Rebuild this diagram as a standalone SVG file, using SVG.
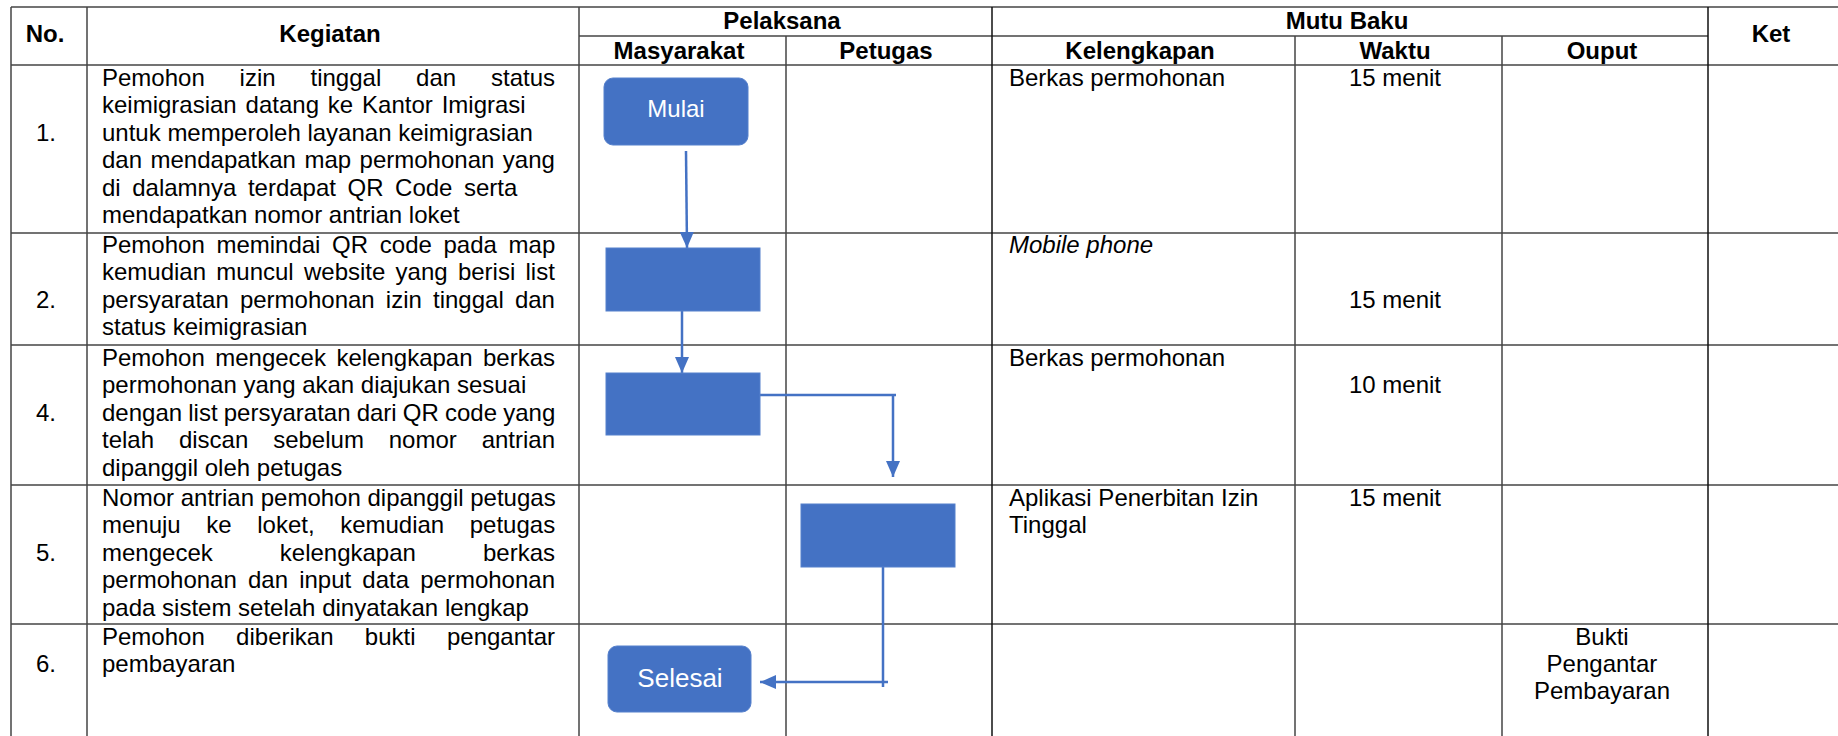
<svg xmlns="http://www.w3.org/2000/svg" width="1838" height="736" viewBox="0 0 1838 736">
<style>
.g{stroke:#444;stroke-width:1.5;fill:none}
.h{font-family:"Liberation Sans",Arial,sans-serif;font-size:24px;font-weight:bold;text-anchor:middle;fill:#000}
.t{font-family:"Liberation Sans",Arial,sans-serif;font-size:24px;fill:#000}
.c{text-anchor:middle}
.i{font-style:italic}
.box{fill:#4472C4;stroke:#5580cc;stroke-width:1}
.lbl{font-family:"Liberation Sans",Arial,sans-serif;fill:#fff;text-anchor:middle}
.con{stroke:#4472C4;stroke-width:2.5;fill:none}
</style>
<defs>
<marker id="ah" markerUnits="userSpaceOnUse" markerWidth="16" markerHeight="14" refX="16" refY="7" orient="auto">
<path d="M0,0 L16,7 L0,14 z" fill="#4472C4"/>
</marker>
</defs>
<rect width="1838" height="736" fill="#fff"/>
<g id="grid" class="g">
<line x1="11" y1="7" x2="1838" y2="7"/>
<line x1="579" y1="36" x2="1708" y2="36"/>
<line x1="11" y1="65" x2="1838" y2="65"/>
<line x1="11" y1="233" x2="1838" y2="233"/>
<line x1="11" y1="345" x2="1838" y2="345"/>
<line x1="11" y1="485" x2="1838" y2="485"/>
<line x1="11" y1="624" x2="1838" y2="624"/>
<line x1="11" y1="7" x2="11" y2="736"/>
<line x1="87" y1="7" x2="87" y2="736"/>
<line x1="579" y1="7" x2="579" y2="736"/>
<line x1="786" y1="36" x2="786" y2="736"/>
<line x1="992" y1="7" x2="992" y2="736" stroke="#111"/>
<line x1="1295" y1="36" x2="1295" y2="736"/>
<line x1="1502" y1="36" x2="1502" y2="736"/>
<line x1="1708" y1="7" x2="1708" y2="736" stroke="#111"/>
</g>
<g id="headers">
<text class="h" x="45" y="42">No.</text>
<text class="h" x="330" y="42">Kegiatan</text>
<text class="h" x="782" y="29">Pelaksana</text>
<text class="h" x="1347" y="29">Mutu Baku</text>
<text class="h" x="1771" y="42">Ket</text>
<text class="h" x="679" y="59">Masyarakat</text>
<text class="h" x="886" y="59">Petugas</text>
<text class="h" x="1140" y="59">Kelengkapan</text>
<text class="h" x="1395" y="59">Waktu</text>
<text class="h" x="1602" y="59">Ouput</text>
</g>
<g id="row1">
<text class="t c" x="46" y="141">1.</text>
<text class="t" x="102" y="86" word-spacing="28.2">Pemohon izin tinggal dan status</text>
<text class="t" x="102" y="113" word-spacing="2.2">keimigrasian datang ke Kantor Imigrasi</text>
<text class="t" x="102" y="141">untuk memperoleh layanan keimigrasian</text>
<text class="t" x="102" y="168" word-spacing="1.8">dan mendapatkan map permohonan yang</text>
<text class="t" x="102" y="196" word-spacing="4.9">di dalamnya terdapat QR Code serta</text>
<text class="t" x="102" y="223">mendapatkan nomor antrian loket</text>
<text class="t" x="1009" y="86">Berkas permohonan</text>
<text class="t c" x="1395" y="86">15 menit</text>
</g>
<g id="row2">
<text class="t c" x="46" y="308">2.</text>
<text class="t" x="102" y="253" word-spacing="5">Pemohon memindai QR code pada map</text>
<text class="t" x="102" y="280" word-spacing="3.6">kemudian muncul website yang berisi list</text>
<text class="t" x="102" y="308" word-spacing="4.5">persyaratan permohonan izin tinggal dan</text>
<text class="t" x="102" y="335">status keimigrasian</text>
<text class="t i" x="1009" y="253">Mobile phone</text>
<text class="t c" x="1395" y="308">15 menit</text>
</g>
<g id="row4">
<text class="t c" x="46" y="421">4.</text>
<text class="t" x="102" y="366" word-spacing="3.8">Pemohon mengecek kelengkapan berkas</text>
<text class="t" x="102" y="393">permohonan yang akan diajukan sesuai</text>
<text class="t" x="102" y="421" word-spacing="-0.5">dengan list persyaratan dari QR code yang</text>
<text class="t" x="102" y="448" word-spacing="18.2">telah discan sebelum nomor antrian</text>
<text class="t" x="102" y="476">dipanggil oleh petugas</text>
<text class="t" x="1009" y="366">Berkas permohonan</text>
<text class="t c" x="1395" y="393">10 menit</text>
</g>
<g id="row5">
<text class="t c" x="46" y="561">5.</text>
<text class="t" x="102" y="506">Nomor antrian pemohon dipanggil petugas</text>
<text class="t" x="102" y="533" word-spacing="18.9">menuju ke loket, kemudian petugas</text>
<text class="t" x="102" y="561" word-spacing="60.4">mengecek kelengkapan berkas</text>
<text class="t" x="102" y="588" word-spacing="4.5">permohonan dan input data permohonan</text>
<text class="t" x="102" y="616">pada sistem setelah dinyatakan lengkap</text>
<text class="t" x="1009" y="506">Aplikasi Penerbitan Izin</text>
<text class="t" x="1009" y="533">Tinggal</text>
<text class="t c" x="1395" y="506">15 menit</text>
</g>
<g id="row6">
<text class="t c" x="46" y="672">6.</text>
<text class="t" x="102" y="645" word-spacing="24.7">Pemohon diberikan bukti pengantar</text>
<text class="t" x="102" y="672">pembayaran</text>
<text class="t c" x="1602" y="645">Bukti</text>
<text class="t c" x="1602" y="672">Pengantar</text>
<text class="t c" x="1602" y="699">Pembayaran</text>
</g>
<g id="connectors">
<path class="con" d="M686,151 L687,248" marker-end="url(#ah)"/>
<path class="con" d="M682,311 L682,373" marker-end="url(#ah)"/>
<path class="con" d="M760,395 H896 M893,395 V477" marker-end="url(#ah)"/>
<path class="con" d="M883,567 V687 M888,682 H760" marker-end="url(#ah)"/>
</g>
<g id="mulai">
<rect class="box" x="604" y="78" width="144" height="67" rx="9"/>
<text class="lbl" x="676" y="117" font-size="24">Mulai</text>
</g>
<g id="step2">
<rect class="box" x="606" y="248" width="154" height="63"/>
</g>
<g id="step4">
<rect class="box" x="606" y="373" width="154" height="62"/>
</g>
<g id="step5">
<rect class="box" x="801" y="504" width="154" height="63"/>
</g>
<g id="selesai">
<rect class="box" x="608" y="646" width="143" height="66" rx="9"/>
<text class="lbl" x="680" y="687" font-size="26">Selesai</text>
</g>
</svg>
